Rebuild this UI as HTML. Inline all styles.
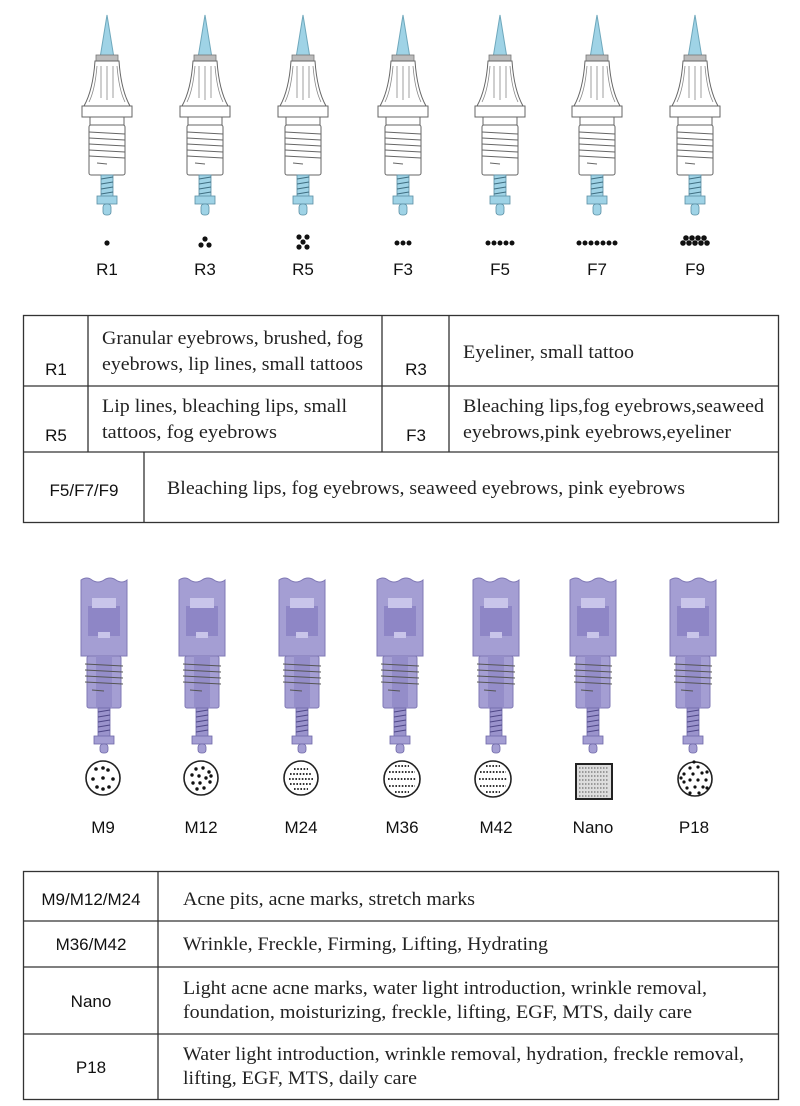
<!DOCTYPE html>
<html><head><meta charset="utf-8"><style>
html,body{margin:0;padding:0;background:#fff}
svg{display:block}
.s{font-family:"Liberation Sans",sans-serif;font-size:17px;fill:#111}
.r{font-family:"Liberation Serif",serif;font-size:19px;fill:#222}
</style></head><body>
<svg width="800" height="1106" viewBox="0 0 800 1106" xmlns="http://www.w3.org/2000/svg">
<defs>
<g id="top">
  <polygon points="-7,58 0,15 7,58" fill="#9fd3e6" stroke="#6fa8bc" stroke-width="1"/>
  <rect x="-11" y="55" width="22" height="6" fill="#bbb" stroke="#777" stroke-width="0.8"/>
  <path d="M-12,61 L12,61 Q14,90 23,106 L-23,106 Q-14,90 -12,61 Z" fill="#fff" stroke="#666" stroke-width="1"/>
  <path d="M-6,66 L-6,98 M0,66 L0,100 M6,66 L6,98 M-10,66 Q-12,90 -18,102 M10,66 Q12,90 18,102" stroke="#888" stroke-width="0.8" fill="none"/>
  <rect x="-25" y="106" width="50" height="11" fill="#fff" stroke="#666" stroke-width="1"/>
  <rect x="-17" y="117" width="34" height="8" fill="#fff" stroke="#666" stroke-width="1"/>
  <rect x="-18" y="125" width="36" height="50" rx="2" fill="#fff" stroke="#666" stroke-width="1"/>
  <path d="M-18,132 L18,134 M-18,138 L18,140 M-18,144 L18,146 M-18,150 L18,152 M-18,156 L18,158 M-10,163 L0,164" stroke="#666" stroke-width="1" fill="none"/>
  <rect x="-6" y="175" width="12" height="22" fill="#9fd3e6" stroke="#5a8ea3" stroke-width="0.8"/>
  <path d="M-6,179 L6,177 M-6,184 L6,182 M-6,189 L6,187 M-6,194 L6,192" stroke="#3f6f82" stroke-width="1"/>
  <rect x="-10" y="196" width="20" height="8" fill="#9fd3e6" stroke="#5a8ea3" stroke-width="0.8"/>
  <rect x="-4" y="204" width="8" height="11" rx="3" fill="#9fd3e6" stroke="#5a8ea3" stroke-width="0.8"/>
</g>
<g id="pur">
  <path d="M-23,580 Q-17,576 -12,580 Q-6,584 0,580 Q6,576 12,580 Q18,584 23,580 L23,656 L-23,656 Z" fill="#a49ed3" stroke="#7f78b4" stroke-width="1"/>
  <rect x="-16" y="606" width="32" height="30" fill="#8e86c6"/>
  <rect x="-12" y="598" width="24" height="10" fill="#c9c5ea"/>
  <rect x="-6" y="632" width="12" height="6" fill="#c9c5ea"/>
  <rect x="-17" y="656" width="34" height="52" rx="2" fill="#a49ed3" stroke="#7f78b4" stroke-width="1"/>
  <rect x="-8" y="656" width="16" height="52" fill="#948dc9"/>
  <path d="M-19,664 L19,666 M-19,670 L19,672 M-19,676 L19,678 M-19,682 L19,684 M-12,690 L0,691" stroke="#555" stroke-width="1" fill="none"/>
  <rect x="-6" y="708" width="12" height="30" fill="#9a93cc" stroke="#6f68a8" stroke-width="0.8"/>
  <path d="M-6,712 L6,710 M-6,717 L6,715 M-6,722 L6,720 M-6,727 L6,725 M-6,732 L6,730" stroke="#4f4888" stroke-width="1"/>
  <rect x="-10" y="736" width="20" height="8" fill="#a49ed3" stroke="#6f68a8" stroke-width="0.8"/>
  <rect x="-4" y="744" width="8" height="9" rx="3" fill="#a49ed3" stroke="#6f68a8" stroke-width="0.8"/>
</g>
</defs>

<use href="#top" x="107"/><use href="#top" x="205"/><use href="#top" x="303"/><use href="#top" x="403"/><use href="#top" x="500"/><use href="#top" x="597"/><use href="#top" x="695"/>

<g fill="#111">
<circle cx="107" cy="243" r="2.6"/>
<circle cx="205" cy="239" r="2.6"/><circle cx="201" cy="245" r="2.6"/><circle cx="209" cy="245" r="2.6"/>
<circle cx="299" cy="237" r="2.6"/><circle cx="307" cy="237" r="2.6"/><circle cx="303" cy="242" r="2.6"/><circle cx="299" cy="247" r="2.6"/><circle cx="307" cy="247" r="2.6"/>
<circle cx="397" cy="243" r="2.5"/><circle cx="403" cy="243" r="2.5"/><circle cx="409" cy="243" r="2.5"/>
<circle cx="488" cy="243" r="2.5"/><circle cx="494" cy="243" r="2.5"/><circle cx="500" cy="243" r="2.5"/><circle cx="506" cy="243" r="2.5"/><circle cx="512" cy="243" r="2.5"/>
<circle cx="579" cy="243" r="2.5"/><circle cx="585" cy="243" r="2.5"/><circle cx="591" cy="243" r="2.5"/><circle cx="597" cy="243" r="2.5"/><circle cx="603" cy="243" r="2.5"/><circle cx="609" cy="243" r="2.5"/><circle cx="615" cy="243" r="2.5"/>
<circle cx="686" cy="238" r="2.8"/><circle cx="692" cy="238" r="2.8"/><circle cx="698" cy="238" r="2.8"/><circle cx="704" cy="238" r="2.8"/>
<circle cx="683" cy="243" r="2.8"/><circle cx="689" cy="243" r="2.8"/><circle cx="695" cy="243" r="2.8"/><circle cx="701" cy="243" r="2.8"/><circle cx="707" cy="243" r="2.8"/>
</g>
<g class="s" text-anchor="middle">
<text x="107" y="275">R1</text><text x="205" y="275">R3</text><text x="303" y="275">R5</text><text x="403" y="275">F3</text><text x="500" y="275">F5</text><text x="597" y="275">F7</text><text x="695" y="275">F9</text>
</g>

<g fill="none" stroke="#333" stroke-width="1.3">
<rect x="23.5" y="315.5" width="755" height="207"/>
<line x1="23" y1="386" x2="779" y2="386"/><line x1="23" y1="452" x2="779" y2="452"/>
<line x1="88" y1="315" x2="88" y2="452"/><line x1="382" y1="315" x2="382" y2="452"/><line x1="449" y1="315" x2="449" y2="452"/>
<line x1="144" y1="452" x2="144" y2="522"/>
</g>
<g class="s" text-anchor="middle">
<text x="56" y="375">R1</text><text x="416" y="375">R3</text>
<text x="56" y="441">R5</text><text x="416" y="441">F3</text>
<text x="84" y="496">F5/F7/F9</text>
</g>
<g class="r">
<text x="102" y="344" textLength="261" lengthAdjust="spacingAndGlyphs">Granular eyebrows, brushed, fog</text>
<text x="102" y="370" textLength="261" lengthAdjust="spacingAndGlyphs">eyebrows, lip lines, small tattoos</text>
<text x="463" y="358" textLength="171" lengthAdjust="spacingAndGlyphs">Eyeliner, small tattoo</text>
<text x="102" y="412" textLength="245" lengthAdjust="spacingAndGlyphs">Lip lines, bleaching lips, small</text>
<text x="102" y="438" textLength="175" lengthAdjust="spacingAndGlyphs">tattoos, fog eyebrows</text>
<text x="463" y="412" textLength="301" lengthAdjust="spacingAndGlyphs">Bleaching lips,fog eyebrows,seaweed</text>
<text x="463" y="438" textLength="268" lengthAdjust="spacingAndGlyphs">eyebrows,pink eyebrows,eyeliner</text>
<text x="167" y="494" textLength="518" lengthAdjust="spacingAndGlyphs">Bleaching lips, fog eyebrows, seaweed eyebrows, pink eyebrows</text>
</g>

<use href="#pur" x="104"/><use href="#pur" x="202"/><use href="#pur" x="302"/><use href="#pur" x="400"/><use href="#pur" x="496"/><use href="#pur" x="593"/><use href="#pur" x="693"/>

<g fill="#fff" stroke="#222" stroke-width="1.6">
<circle cx="103" cy="778" r="17"/><circle cx="201" cy="778" r="17"/><circle cx="301" cy="778" r="17"/><circle cx="402" cy="779" r="18"/><circle cx="493" cy="779" r="18"/><circle cx="695" cy="779" r="17"/>
<rect x="576" y="764" width="36" height="35" fill="#ddd" stroke-width="2"/>
</g>
<g fill="#111">
<circle cx="96" cy="769" r="1.8"/><circle cx="108" cy="770" r="1.8"/><circle cx="93" cy="779" r="1.8"/><circle cx="103" cy="778" r="1.8"/><circle cx="113" cy="779" r="1.8"/><circle cx="97" cy="787" r="1.8"/><circle cx="109" cy="787" r="1.8"/><circle cx="103" cy="768" r="1.8"/><circle cx="103" cy="789" r="1.8"/>
<circle cx="196" cy="769" r="1.7"/><circle cx="203" cy="768" r="1.7"/><circle cx="209" cy="772" r="1.7"/><circle cx="192" cy="775" r="1.7"/><circle cx="199" cy="776" r="1.7"/><circle cx="206" cy="778" r="1.7"/><circle cx="193" cy="783" r="1.7"/><circle cx="200" cy="783" r="1.7"/><circle cx="210" cy="782" r="1.7"/><circle cx="197" cy="789" r="1.7"/><circle cx="204" cy="788" r="1.7"/><circle cx="211" cy="776" r="1.7"/>
</g>
<g stroke="#333" stroke-width="2" stroke-dasharray="1.6 1.6">
<line x1="294" y1="769" x2="308" y2="769"/><line x1="290" y1="774" x2="312" y2="774"/><line x1="289" y1="779" x2="313" y2="779"/><line x1="290" y1="784" x2="312" y2="784"/><line x1="294" y1="789" x2="308" y2="789"/>
<line x1="395" y1="766" x2="409" y2="766"/><line x1="389" y1="772" x2="415" y2="772"/><line x1="388" y1="779" x2="416" y2="779"/><line x1="389" y1="786" x2="415" y2="786"/><line x1="395" y1="792" x2="409" y2="792"/>
<line x1="486" y1="766" x2="500" y2="766"/><line x1="480" y1="772" x2="506" y2="772"/><line x1="479" y1="779" x2="507" y2="779"/><line x1="480" y1="786" x2="506" y2="786"/><line x1="486" y1="792" x2="500" y2="792"/>
</g>
<g stroke="#555" stroke-width="1" stroke-dasharray="1.5 1.5">
<line x1="579" y1="768" x2="609" y2="768"/><line x1="579" y1="772" x2="609" y2="772"/><line x1="579" y1="776" x2="609" y2="776"/><line x1="579" y1="780" x2="609" y2="780"/><line x1="579" y1="784" x2="609" y2="784"/><line x1="579" y1="788" x2="609" y2="788"/><line x1="579" y1="792" x2="609" y2="792"/><line x1="579" y1="796" x2="609" y2="796"/>
</g>
<g fill="#111">
<circle cx="690" cy="768" r="1.6"/><circle cx="698" cy="767" r="1.6"/><circle cx="684" cy="774" r="1.6"/><circle cx="693" cy="774" r="1.6"/><circle cx="702" cy="773" r="1.6"/><circle cx="706" cy="780" r="1.6"/><circle cx="684" cy="782" r="1.6"/><circle cx="690" cy="780" r="1.6"/><circle cx="698" cy="780" r="1.6"/><circle cx="687" cy="788" r="1.6"/><circle cx="695" cy="787" r="1.6"/><circle cx="703" cy="787" r="1.6"/><circle cx="690" cy="793" r="1.6"/><circle cx="699" cy="793" r="1.6"/><circle cx="694" cy="762" r="1.6"/><circle cx="707" cy="772" r="1.6"/><circle cx="681" cy="778" r="1.6"/><circle cx="707" cy="788" r="1.6"/>
</g>
<g class="s" text-anchor="middle">
<text x="103" y="833">M9</text><text x="201" y="833">M12</text><text x="301" y="833">M24</text><text x="402" y="833">M36</text><text x="496" y="833">M42</text><text x="593" y="833">Nano</text><text x="694" y="833">P18</text>
</g>

<g fill="none" stroke="#333" stroke-width="1.3">
<rect x="23.5" y="871.5" width="755" height="228"/>
<line x1="23" y1="921" x2="779" y2="921"/><line x1="23" y1="967" x2="779" y2="967"/><line x1="23" y1="1034" x2="779" y2="1034"/>
<line x1="158" y1="871" x2="158" y2="1100"/>
</g>
<g class="s" text-anchor="middle">
<text x="91" y="905">M9/M12/M24</text><text x="91" y="950">M36/M42</text><text x="91" y="1007">Nano</text><text x="91" y="1073">P18</text>
</g>
<g class="r">
<text x="183" y="905" textLength="292" lengthAdjust="spacingAndGlyphs">Acne pits, acne marks, stretch marks</text>
<text x="183" y="950" textLength="365" lengthAdjust="spacingAndGlyphs">Wrinkle, Freckle, Firming, Lifting, Hydrating</text>
<text x="183" y="994" textLength="524" lengthAdjust="spacingAndGlyphs">Light acne acne marks, water light introduction, wrinkle removal,</text>
<text x="183" y="1018" textLength="509" lengthAdjust="spacingAndGlyphs">foundation, moisturizing, freckle, lifting, EGF, MTS, daily care</text>
<text x="183" y="1060" textLength="561" lengthAdjust="spacingAndGlyphs">Water light introduction, wrinkle removal, hydration, freckle removal,</text>
<text x="183" y="1084" textLength="234" lengthAdjust="spacingAndGlyphs">lifting, EGF, MTS, daily care</text>
</g>
</svg>
</body></html>
